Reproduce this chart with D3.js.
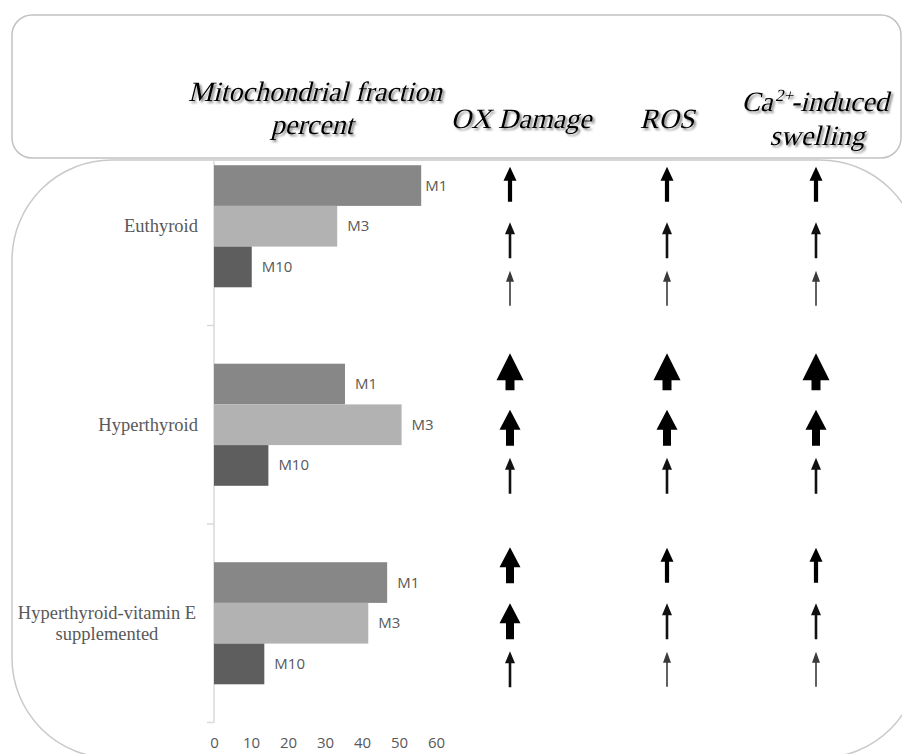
<!DOCTYPE html>
<html>
<head>
<meta charset="utf-8">
<script src="https://cdn.jsdelivr.net/npm/d3@7"></script>
<style>
  html, body { margin: 0; padding: 0; background: #fff; }
  svg { display: block; }
</style>
</head>
<body>
<svg id="chart" width="902" height="754"></svg>
<script>
// ---------------- DATA ----------------
const categories = ["Euthyroid", "Hyperthyroid", "Hyperthyroid-vitamin E supplemented"];
const seriesNames = ["M1", "M3", "M10"];
const m1Values = [56, 35.4, 46.8];
const m3Values = [33.3, 50.7, 41.7];
const m10Values = [10.2, 14.7, 13.6];
const xTickValues = [0, 10, 20, 30, 40, 50, 60];
const headerTitle = ["Mitochondrial fraction", "percent"];
const markerNames = ["OX Damage", "ROS", "Ca2+-induced swelling"];
// arrow strength (1 = weak ... 5 = strongest) for rows M1, M3, M10 of each group
const oxDamageArrows = [[3, 2, 1], [5, 4, 2], [4, 4, 2]];
const rosArrows = [[3, 2, 1], [5, 4, 2], [3, 2, 1]];
const swellingArrows = [[3, 2, 1], [5, 4, 2], [3, 2, 1]];

// ---------------- LAYOUT ----------------
const svg = d3.select("#chart");
const seriesValues = [m1Values, m3Values, m10Values];
const colors = { M1: "#878787", M3: "#b2b2b2", M10: "#5e5e5e" };

const x = d3.scaleLinear().domain([0, 60]).range([214, 436]);
const y = d3.scaleBand().domain(categories).range([127, 722.5])
  .paddingInner(0.385).paddingOuter(0.1925);
const yInner = d3.scaleBand().domain(seriesNames).range([0, y.bandwidth()]);

const defs = svg.append("defs");
const shadow = defs.append("filter").attr("id", "shadow")
  .attr("x", "-10%").attr("y", "-30%").attr("width", "130%").attr("height", "170%");
shadow.append("feDropShadow").attr("dx", 2).attr("dy", 2).attr("stdDeviation", 1.3)
  .attr("flood-color", "#555").attr("flood-opacity", 0.7);

// big rounded frame
svg.append("rect").attr("x", 12).attr("y", 160).attr("width", 908).attr("height", 598)
  .attr("rx", 100).attr("ry", 100)
  .attr("fill", "none").attr("stroke", "#c9c9c9").attr("stroke-width", 1.5);

// vertical category axis (ticks between categories)
const axisG = svg.append("g");
const gap = y.step() * y.paddingInner();
const x0 = x(0);
axisG.append("line").attr("x1", x0).attr("x2", x0)
  .attr("y1", 160).attr("y2", y(categories[categories.length - 1]) + y.bandwidth() + gap / 2)
  .attr("stroke", "#d9d9d9").attr("stroke-width", 1.5);
categories.forEach(c => {
  const yb = y(c) + y.bandwidth() + gap / 2;
  axisG.append("line").attr("x1", x0 - 7).attr("x2", x0).attr("y1", yb).attr("y2", yb)
    .attr("stroke", "#d9d9d9").attr("stroke-width", 1.5);
});

// category labels
categories.forEach((c, i) => {
  const cy = y(c) + y.bandwidth() / 2;
  const t = svg.append("text")
    .attr("font-family", "'Liberation Serif', 'Times New Roman', serif")
    .attr("font-size", 18.5).attr("fill", "#595959");
  if (i === 2) {
    t.attr("text-anchor", "middle");
    t.append("tspan").attr("x", 107).attr("y", cy - 4).text("Hyperthyroid-vitamin E");
    t.append("tspan").attr("x", 107).attr("y", cy + 17).text("supplemented");
  } else {
    t.attr("text-anchor", "end").attr("x", 198).attr("y", cy + 6).text(c);
  }
});

// bars
const barData = [];
categories.forEach((c, ci) => {
  seriesNames.forEach((s, si) => {
    barData.push({ cat: c, ci, s, si, v: seriesValues[si][ci] });
  });
});
const bars = svg.append("g");
bars.selectAll("rect").data(barData).join("rect")
  .attr("x", x(0))
  .attr("y", d => y(d.cat) + yInner(d.s))
  .attr("width", d => x(d.v) - x(0))
  .attr("height", yInner.bandwidth())
  .attr("fill", d => colors[d.s]);

bars.selectAll("text").data(barData).join("text")
  .attr("x", d => x(d.v) + (d.ci === 0 && d.si === 0 ? 4 : 10))
  .attr("y", d => y(d.cat) + yInner(d.s) + yInner.bandwidth() / 2 + 5)
  .attr("font-family", "'Open Sans', 'Liberation Sans', sans-serif")
  .attr("font-size", 15).attr("fill", "#595959")
  .text(d => d.s);

// x axis
const xAxis = d3.axisBottom(x).tickValues(xTickValues).tickSize(0).tickPadding(5);
const xg = svg.append("g").attr("transform", "translate(0,732)").call(xAxis);
xg.select(".domain").remove();
xg.selectAll("text").attr("font-family", "'Open Sans', 'Liberation Sans', sans-serif")
  .attr("font-size", 15).attr("fill", "#595959");

// header box
svg.append("rect").attr("x", 12).attr("y", 15).attr("width", 889).attr("height", 143)
  .attr("rx", 20).attr("ry", 20)
  .attr("fill", "#fff").attr("stroke", "#c2c2c2").attr("stroke-width", 1.5);

const hdr = svg.append("g")
  .attr("font-family", "'Liberation Serif', 'Times New Roman', serif")
  .attr("font-size", 28).attr("fill", "#000")
  .attr("text-anchor", "middle").attr("filter", "url(#shadow)");
function hText(tx, ty) {
  return hdr.append("text").attr("x", 0).attr("y", 0)
    .attr("transform", `translate(${tx},${ty}) skewX(-14)`);
}
hText(315, 101).text(headerTitle[0]);
hText(312, 134).text(headerTitle[1]);

const colX = [521, 667, 815];
hText(colX[0], 128).text(markerNames[0]);
hText(colX[1], 128).text(markerNames[1]);
const ca = hText(colX[2], 111);
ca.append("tspan").text("Ca");
ca.append("tspan").attr("font-size", 17).attr("dy", -10).text("2+");
ca.append("tspan").attr("dy", 10).text("-induced");
hText(817, 145).text("swelling");

// arrows
const arrowSpec = {
  1: { sw: 1.6, hw: 8, hh: 11, len: 35, color: "#3a3a3a" },
  2: { sw: 2.6, hw: 10, hh: 12, len: 36, color: "#111" },
  3: { sw: 4.2, hw: 13, hh: 14, len: 35, color: "#000" },
  4: { sw: 8, hw: 21, hh: 20, len: 36, color: "#000" },
  5: { sw: 9, hw: 27, hh: 27, len: 37, color: "#000" }
};
const arrowColX = [510, 667, 816];
const groupShift = [11, 0, -5];
const rowOffset = [-53, 3, 51];
const arrowSets = [oxDamageArrows, rosArrows, swellingArrows];
const arrowData = [];
arrowSets.forEach((set, mi) => {
  set.forEach((rows, ci) => {
    rows.forEach((lvl, ri) => {
      arrowData.push({ mi, ci, ri, lvl });
    });
  });
});
function arrowPath(d) {
  const s = arrowSpec[d.lvl];
  const cx = arrowColX[d.mi];
  const cy = y(categories[d.ci]) + y.bandwidth() / 2 + groupShift[d.ci] + rowOffset[d.ri];
  const top = cy - s.len / 2, bot = cy + s.len / 2, hb = top + s.hh;
  const p = d3.path();
  p.moveTo(cx, top);
  p.lineTo(cx + s.hw / 2, hb);
  p.lineTo(cx + s.sw / 2, hb);
  p.lineTo(cx + s.sw / 2, bot);
  p.lineTo(cx - s.sw / 2, bot);
  p.lineTo(cx - s.sw / 2, hb);
  p.lineTo(cx - s.hw / 2, hb);
  p.closePath();
  return p.toString();
}
svg.append("g").selectAll("path").data(arrowData).join("path")
  .attr("d", arrowPath)
  .attr("fill", d => arrowSpec[d.lvl].color);
</script>
</body>
</html>
